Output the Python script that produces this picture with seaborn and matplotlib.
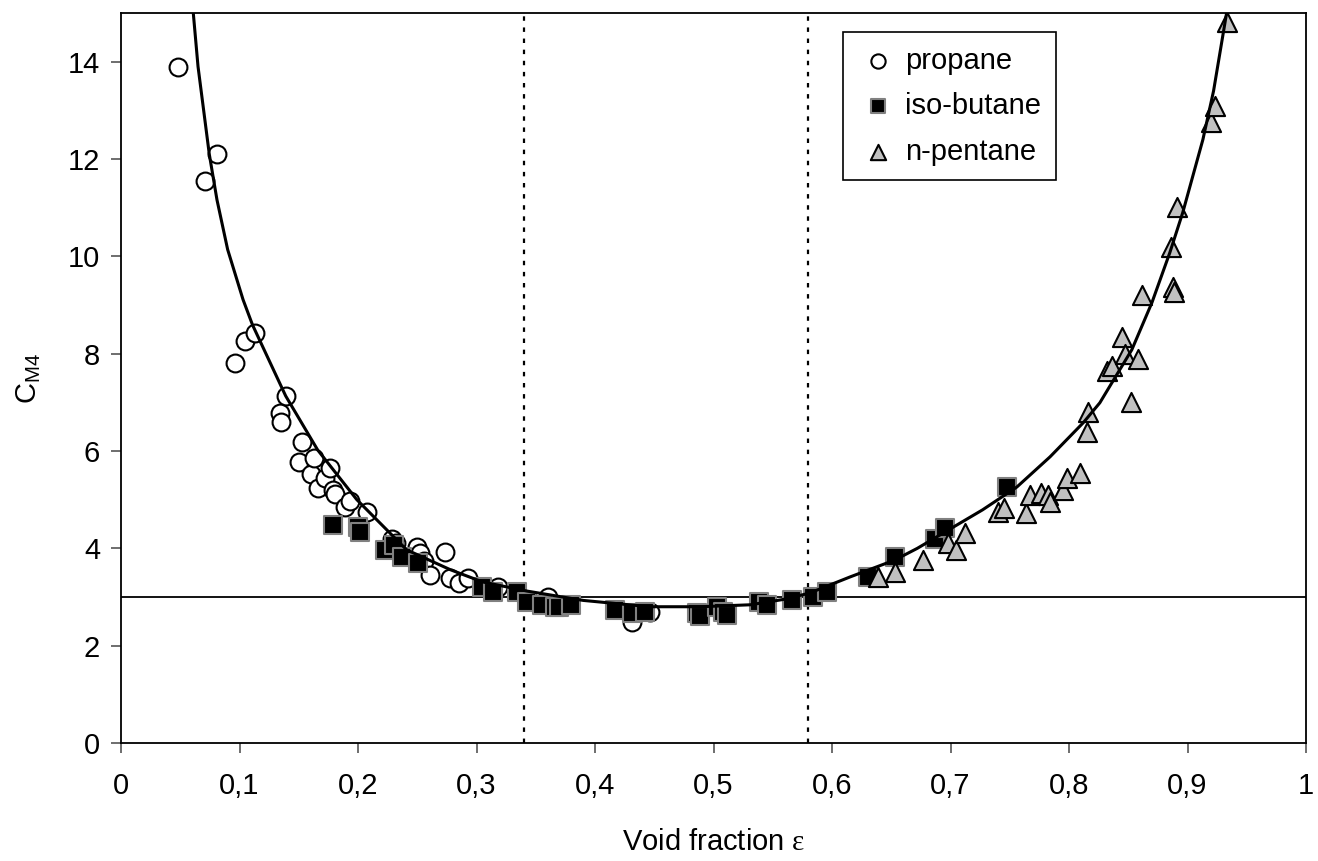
import matplotlib as mpl
import matplotlib.pyplot as plt
import seaborn as sns

# data
propane_x = [0.048, 0.071, 0.081, 0.096, 0.105, 0.113, 0.134, 0.135, 0.139, 0.150, 0.153,
             0.160, 0.163, 0.166, 0.172, 0.176, 0.179, 0.181, 0.189, 0.193, 0.208, 0.229,
             0.232, 0.250, 0.252, 0.256, 0.261, 0.273, 0.278, 0.285, 0.293, 0.318, 0.360,
             0.431, 0.446]
propane_y = [13.9, 11.55, 12.1, 7.81, 8.27, 8.43, 6.78, 6.6, 7.13, 5.78, 6.19,
             5.52, 5.85, 5.25, 5.45, 5.65, 5.2, 5.12, 4.85, 4.97, 4.75, 4.2,
             4.1, 4.03, 3.9, 3.75, 3.45, 3.93, 3.39, 3.29, 3.39, 3.21, 3.0,
             2.49, 2.69]

butane_x = [0.179, 0.200, 0.202, 0.223, 0.230, 0.237, 0.251, 0.305, 0.314, 0.334, 0.343,
            0.355, 0.366, 0.370, 0.380, 0.417, 0.431, 0.442, 0.486, 0.489, 0.503, 0.508,
            0.511, 0.538, 0.545, 0.566, 0.584, 0.596, 0.630, 0.653, 0.687, 0.695, 0.748]
butane_y = [4.48, 4.44, 4.34, 3.97, 4.07, 3.83, 3.7, 3.21, 3.1, 3.1, 2.9,
            2.84, 2.8, 2.8, 2.84, 2.73, 2.67, 2.69, 2.67, 2.6, 2.8, 2.69,
            2.63, 2.9, 2.84, 2.94, 3.0, 3.1, 3.41, 3.83, 4.2, 4.42, 5.26]

pentane_x = [0.639, 0.653, 0.677, 0.698, 0.705, 0.712, 0.740, 0.745, 0.764, 0.767, 0.776,
             0.782, 0.784, 0.795, 0.798, 0.809, 0.815, 0.816, 0.832, 0.836, 0.845, 0.847,
             0.852, 0.858, 0.862, 0.886, 0.888, 0.889, 0.891, 0.920, 0.923, 0.933]
pentane_y = [3.41, 3.52, 3.76, 4.11, 3.97, 4.32, 4.75, 4.83, 4.73, 5.1, 5.14,
             5.1, 4.96, 5.2, 5.45, 5.55, 6.39, 6.8, 7.65, 7.75, 8.35, 8.0,
             7.0, 7.9, 9.21, 10.2, 9.38, 9.27, 11.02, 12.77, 13.08, 14.82]

fit_x = [0.061, 0.065, 0.0745, 0.081, 0.090, 0.103, 0.111, 0.139, 0.166, 0.199, 0.241,
         0.278, 0.305, 0.343, 0.39, 0.446, 0.489, 0.531, 0.559, 0.581, 0.615, 0.653,
         0.672, 0.727, 0.756, 0.784, 0.812, 0.826, 0.853, 0.870, 0.885, 0.896, 0.913,
         0.922, 0.933]
fit_y = [15.0, 13.9, 12.1, 11.16, 10.14, 9.11, 8.59, 7.13, 6.02, 5.0, 3.97,
         3.56, 3.31, 3.12, 2.93, 2.8, 2.8, 2.84, 2.95, 3.08, 3.41, 3.76,
         4.0, 4.79, 5.26, 5.88, 6.58, 6.99, 8.08, 9.05, 10.07, 10.9, 12.4,
         13.4, 15.0]

limits_x = [0.34, 0.58]
threshold = 3.0

x_ticks = [0, 0.1, 0.2, 0.3, 0.4, 0.5, 0.6, 0.7, 0.8, 0.9, 1.0]
x_labels = ["0", "0,1", "0,2", "0,3", "0,4", "0,5", "0,6", "0,7", "0,8", "0,9", "1"]
y_ticks = [0, 2, 4, 6, 8, 10, 12, 14]

sns.set_style("white")
plt.rcParams["font.family"] = ["Liberation Sans", "DejaVu Sans"]
plt.rcParams["mathtext.fontset"] = "custom"
plt.rcParams["mathtext.rm"] = "Liberation Serif"
plt.rcParams["text.color"] = "black"
plt.rcParams["axes.labelcolor"] = "black"

fig = plt.figure(figsize=(13.18, 8.61), dpi=100)
ax = fig.add_axes([121 / 1318, 1 - 743 / 861, 1185 / 1318, 730 / 861])

ax.axhline(threshold, color="black", linewidth=1.3, zorder=1)
for xv in limits_x:
    ax.axvline(xv, color="black", linestyle=(0, (2, 3)), linewidth=1.6, zorder=1)

sns.scatterplot(x=propane_x, y=propane_y, ax=ax, marker="o", s=165,
                color="white", edgecolor="black", linewidth=1.5, label="propane", zorder=3)
sns.scatterplot(x=butane_x, y=butane_y, ax=ax, marker="s", s=150,
                color="black", edgecolor="#808080", linewidth=1.5, label="iso-butane", zorder=3)
sns.scatterplot(x=pentane_x, y=pentane_y, ax=ax, marker="^", s=190,
                color="#c0c0c0", edgecolor="black", linewidth=1.5, label="n-pentane", zorder=3)
sns.lineplot(x=fit_x, y=fit_y, ax=ax, color="black", linewidth=2.2,
             estimator=None, sort=False, zorder=4)

ax.set_xlim(0, 1)
ax.set_ylim(0, 15)
ax.set_xticks(x_ticks)
ax.set_xticklabels(x_labels)
ax.set_yticks(y_ticks)
ax.tick_params(axis="both", labelsize=21, direction="out", length=7, width=1.2,
               color="#555555", labelcolor="black", bottom=True, left=True, pad=8)
ax.tick_params(axis="x", pad=14)
for sp in ax.spines.values():
    sp.set_color("black")
    sp.set_linewidth(1.3)

ax.set_xlabel(r"Void fraction $\mathrm{\varepsilon}$", fontsize=21, labelpad=20)
ax.set_ylabel(r"C$_{\mathregular{M4}}$", fontsize=21, labelpad=18)

leg = ax.legend(loc="upper left", bbox_to_anchor=(0.609, 0.974), borderaxespad=0,
                fontsize=21, frameon=True, fancybox=False, edgecolor="black",
                framealpha=1, handletextpad=0.25, handlelength=1.4, labelspacing=0.6,
                borderpad=0.5, markerscale=0.8)
leg.get_frame().set_linewidth(1.2)

fig.savefig("out.png", dpi=100)
